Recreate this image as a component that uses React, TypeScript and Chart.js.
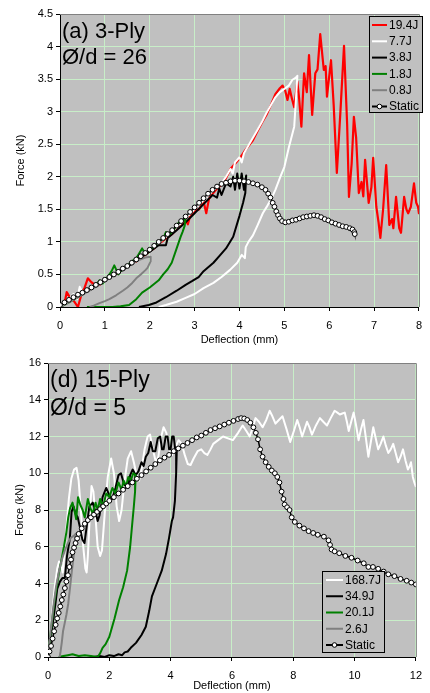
import React, { useEffect, useRef } from "react";
import { Chart, registerables } from "chart.js";
Chart.register(...registerables);

type Pt = [number, number];

// ---------- Top panel (a) 3-Ply ----------
const topSeriesNames = ["19.4J", "7.7J", "3.8J", "1.8J", "0.8J", "Static"];
const topXTickLabels = ["0", "1", "2", "3", "4", "5", "6", "7", "8"];
const topYTickLabels = ["0", "0.5", "1", "1.5", "2", "2.5", "3", "3.5", "4", "4.5"];
const topTitleLines = ["(a) 3-Ply", "Ø/d = 26"];

const top194J: Pt[] = [
  [0, 0], [0.1, 0.05], [0.15, 0.23], [0.22, 0.15], [0.3, 0.1], [0.4, 0.0], [0.48, 0.2], [0.55, 0.3],
  [0.62, 0.44], [0.7, 0.38], [0.8, 0.33], [0.88, 0.34], [1.0, 0.42], [1.1, 0.45], [1.2, 0.5], [1.3, 0.52],
  [1.4, 0.6], [1.5, 0.62], [1.6, 0.68], [1.7, 0.7], [1.8, 0.77], [1.9, 0.8], [2.0, 0.86], [2.1, 0.9],
  [2.2, 0.97], [2.3, 1.02], [2.4, 1.08], [2.5, 1.12], [2.6, 1.2], [2.7, 1.25], [2.8, 1.33], [2.85, 1.27],
  [2.9, 1.4], [3.0, 1.48], [3.1, 1.5], [3.2, 1.62], [3.26, 1.44], [3.32, 1.66], [3.4, 1.74], [3.5, 1.82],
  [3.6, 1.88], [3.7, 1.98], [3.8, 2.12], [3.9, 2.2], [4.0, 2.28], [4.1, 2.38], [4.2, 2.47], [4.3, 2.56],
  [4.4, 2.7], [4.5, 2.83], [4.6, 2.95], [4.7, 3.1], [4.8, 3.27], [4.9, 3.36], [4.96, 3.4], [5.02, 3.32],
  [5.07, 3.18], [5.12, 3.35], [5.17, 3.2], [5.22, 3.07], [5.29, 3.46], [5.33, 3.2], [5.38, 2.77], [5.44, 3.59],
  [5.5, 3.3], [5.55, 3.87], [5.62, 2.95], [5.69, 3.59], [5.74, 3.65], [5.8, 4.19], [5.88, 3.64], [5.92, 3.7],
  [5.95, 3.23], [6.04, 3.79], [6.1, 3.1], [6.17, 2.06], [6.25, 3.0], [6.33, 4.01], [6.4, 2.8], [6.44, 1.69],
  [6.5, 2.2], [6.55, 2.92], [6.6, 2.6], [6.66, 1.75], [6.72, 1.92], [6.76, 1.7], [6.8, 2.26], [6.88, 1.6],
  [6.94, 1.84], [6.98, 2.29], [7.05, 1.54], [7.1, 1.3], [7.14, 1.06], [7.2, 1.49], [7.27, 2.18], [7.34, 1.26],
  [7.4, 1.35], [7.43, 1.21], [7.49, 1.69], [7.56, 1.21], [7.6, 1.14], [7.67, 1.69], [7.72, 1.5], [7.76, 1.44],
  [7.82, 1.54], [7.89, 1.9], [7.94, 1.6], [7.98, 1.54], [8.0, 1.44],
];

const top77J: Pt[] = [
  [0, 0], [0.1, 0.04], [0.2, 0.12], [0.3, 0.2], [0.38, 0.12], [0.44, 0.31], [0.5, 0.22], [0.6, 0.26],
  [0.7, 0.3], [0.8, 0.35], [0.9, 0.38], [1.0, 0.42], [1.2, 0.5], [1.4, 0.59], [1.6, 0.67], [1.8, 0.77],
  [2.0, 0.87], [2.2, 0.98], [2.4, 1.1], [2.6, 1.22], [2.8, 1.36], [3.0, 1.5], [3.2, 1.64], [3.4, 1.78],
  [3.6, 1.9], [3.7, 2.0], [3.8, 2.12], [3.85, 2.05], [3.9, 2.22], [4.0, 2.3], [4.05, 2.22], [4.1, 2.36],
  [4.2, 2.48], [4.3, 2.6], [4.4, 2.72], [4.5, 2.84], [4.6, 2.98], [4.7, 3.1], [4.8, 3.22], [4.9, 3.3],
  [5.0, 3.35], [5.1, 3.4], [5.18, 3.49], [5.25, 3.52], [5.29, 3.55], [5.25, 3.1], [5.22, 2.77], [5.1, 2.45],
  [5.0, 2.15], [4.91, 2.0], [4.8, 1.8], [4.7, 1.65], [4.6, 1.53], [4.52, 1.44], [4.4, 1.25], [4.3, 1.1],
  [4.2, 1.0], [4.14, 0.92], [4.12, 0.75], [4.05, 0.8], [3.95, 0.68], [3.79, 0.57], [3.6, 0.46], [3.42, 0.37],
  [3.2, 0.29], [3.0, 0.2], [2.8, 0.14], [2.6, 0.08], [2.36, 0.03], [2.2, 0],
];

const top38J: Pt[] = [
  [0, 0], [0.2, 0.08], [0.4, 0.16], [0.6, 0.25], [0.8, 0.33], [1.0, 0.41], [1.2, 0.49], [1.4, 0.57],
  [1.6, 0.66], [1.8, 0.76], [2.0, 0.85], [2.2, 0.95], [2.36, 0.95], [2.4, 1.06], [2.6, 1.18], [2.8, 1.3],
  [3.0, 1.44], [3.2, 1.58], [3.4, 1.72], [3.5, 1.68], [3.55, 1.82], [3.6, 1.72], [3.7, 1.9], [3.8, 1.85],
  [3.86, 2.0], [3.9, 1.8], [3.95, 2.05], [4.0, 1.82], [4.05, 2.05], [4.1, 1.8], [4.15, 2.02], [4.13, 1.75],
  [4.08, 1.6], [4.0, 1.4], [3.86, 1.08], [3.7, 0.9], [3.55, 0.78], [3.42, 0.68], [3.2, 0.55], [3.09, 0.46],
  [2.95, 0.4], [2.8, 0.34], [2.6, 0.25], [2.36, 0.15], [2.15, 0.07], [1.98, 0.03], [1.76, 0],
];

const top18J: Pt[] = [
  [0, 0], [0.2, 0.07], [0.4, 0.15], [0.6, 0.24], [0.8, 0.33], [0.88, 0.41], [0.95, 0.36], [1.05, 0.45],
  [1.15, 0.55], [1.21, 0.64], [1.3, 0.5], [1.4, 0.6], [1.5, 0.64], [1.6, 0.7], [1.7, 0.75], [1.83, 0.9],
  [1.9, 0.82], [2.0, 0.88], [2.1, 0.93], [2.2, 1.0], [2.3, 1.05], [2.36, 1.15], [2.45, 1.12], [2.55, 1.2],
  [2.65, 1.3], [2.75, 1.33], [2.8, 1.36], [2.78, 1.25], [2.73, 1.15], [2.69, 1.08], [2.6, 0.9], [2.49, 0.68],
  [2.4, 0.58], [2.3, 0.5], [2.2, 0.41], [2.0, 0.3], [1.83, 0.22], [1.7, 0.12], [1.54, 0.03], [1.35, 0.01],
  [1.17, 0], [0.9, 0.0], [0.6, 0],
];

const top08J: Pt[] = [
  [0, 0], [0.2, 0.07], [0.4, 0.15], [0.6, 0.23], [0.8, 0.31], [1.0, 0.4], [1.1, 0.44], [1.2, 0.5],
  [1.32, 0.57], [1.45, 0.62], [1.6, 0.67], [1.76, 0.72], [1.9, 0.76], [2.02, 0.77], [2.02, 0.7], [1.95, 0.6],
  [1.91, 0.57], [1.8, 0.5], [1.7, 0.44], [1.61, 0.37], [1.5, 0.3], [1.4, 0.25], [1.25, 0.18], [1.1, 0.12],
  [1.0, 0.09], [0.88, 0.06], [0.75, 0.02], [0.66, 0],
];

const topStatic: Pt[] = [
  [0, 0.03], [0.1, 0.07], [0.2, 0.11], [0.3, 0.15], [0.4, 0.19], [0.5, 0.22], [0.6, 0.26], [0.7, 0.3],
  [0.8, 0.34], [0.9, 0.38], [1.0, 0.42], [1.1, 0.46], [1.2, 0.5], [1.3, 0.54], [1.4, 0.59], [1.5, 0.63],
  [1.6, 0.68], [1.7, 0.73], [1.8, 0.78], [1.9, 0.83], [2.0, 0.88], [2.1, 0.94], [2.2, 1.0], [2.3, 1.06],
  [2.4, 1.12], [2.5, 1.18], [2.6, 1.25], [2.7, 1.32], [2.8, 1.39], [2.9, 1.46], [3.0, 1.53], [3.1, 1.6],
  [3.2, 1.67], [3.3, 1.74], [3.4, 1.8], [3.5, 1.85], [3.6, 1.89], [3.7, 1.91], [3.8, 1.93], [3.9, 1.94],
  [4.0, 1.94], [4.1, 1.93], [4.2, 1.92], [4.3, 1.9], [4.4, 1.88], [4.5, 1.84], [4.58, 1.8], [4.64, 1.74],
  [4.69, 1.68], [4.74, 1.6], [4.78, 1.54], [4.82, 1.47], [4.86, 1.41], [4.9, 1.36], [4.95, 1.32], [5.02, 1.3],
  [5.1, 1.31], [5.18, 1.33], [5.26, 1.34], [5.34, 1.36], [5.42, 1.38], [5.5, 1.39], [5.58, 1.4], [5.66, 1.41],
  [5.74, 1.4], [5.82, 1.38], [5.9, 1.35], [5.98, 1.33], [6.06, 1.3], [6.14, 1.28], [6.22, 1.26], [6.3, 1.24],
  [6.38, 1.23], [6.46, 1.21], [6.52, 1.19], [6.56, 1.15], [6.57, 1.12],
];

// ---------- Bottom panel (d) 15-Ply ----------
const botSeriesNames = ["168.7J", "34.9J", "20.1J", "2.6J", "Static"];
const botXTickLabels = ["0", "2", "4", "6", "8", "10", "12"];
const botYTickLabels = ["0", "2", "4", "6", "8", "10", "12", "14", "16"];
const botTitleLines = ["(d) 15-Ply", "Ø/d = 5"];

const bot1687J: Pt[] = [
  [0, 0], [0.08, 1.2], [0.15, 2.6], [0.22, 3.8], [0.3, 4.8], [0.36, 5.2], [0.42, 5.1], [0.48, 4.6],
  [0.53, 5.5], [0.6, 7.0], [0.68, 8.6], [0.76, 9.7], [0.85, 10.2], [0.93, 10.3], [1.0, 9.6], [1.07, 8.0],
  [1.15, 6.0], [1.22, 4.8], [1.26, 4.6], [1.3, 5.5], [1.36, 7.6], [1.42, 9.3], [1.48, 9.0], [1.55, 7.6],
  [1.62, 6.0], [1.7, 5.5], [1.76, 5.8], [1.85, 7.8], [1.95, 9.8], [2.06, 10.8], [2.15, 10.0], [2.24, 8.2],
  [2.32, 7.4], [2.4, 8.0], [2.5, 9.6], [2.6, 10.8], [2.71, 11.2], [2.8, 10.6], [2.9, 9.8], [2.97, 9.6],
  [3.05, 10.2], [3.15, 11.3], [3.25, 12.0], [3.33, 12.1], [3.42, 11.3], [3.52, 10.6], [3.6, 10.9], [3.68, 11.9],
  [3.77, 12.5], [3.86, 12.2], [3.95, 11.3], [4.05, 11.0], [4.15, 11.4], [4.26, 11.8], [4.36, 11.6], [4.46, 11.0],
  [4.56, 10.5], [4.65, 10.45], [4.75, 10.8], [4.88, 11.2], [5.0, 11.3], [5.1, 11.1], [5.2, 11.0], [5.3, 11.3],
  [5.39, 11.6], [5.55, 11.8], [5.71, 12.0], [5.87, 11.9], [6.03, 11.8], [6.2, 12.2], [6.35, 12.6], [6.47, 12.3],
  [6.58, 12.0], [6.68, 12.5], [6.77, 13.0], [6.88, 12.8], [7.0, 12.5], [7.12, 12.9], [7.23, 13.4], [7.32, 13.1],
  [7.42, 12.7], [7.53, 12.9], [7.65, 13.1], [7.78, 12.4], [7.9, 11.7], [8.02, 12.3], [8.13, 12.9], [8.21, 12.5],
  [8.29, 12.0], [8.37, 12.4], [8.45, 12.8], [8.53, 12.5], [8.61, 12.1], [8.74, 12.6], [8.87, 13.0], [8.98, 12.8],
  [9.1, 12.6], [9.22, 13.0], [9.35, 13.4], [9.44, 13.3], [9.52, 13.2], [9.6, 13.25], [9.68, 13.3], [9.75, 12.8],
  [9.81, 12.3], [9.89, 12.8], [9.97, 13.3], [10.05, 12.6], [10.13, 11.8], [10.21, 12.4], [10.29, 12.9], [10.37, 11.9],
  [10.45, 10.9], [10.53, 11.7], [10.61, 12.5], [10.69, 11.9], [10.77, 11.3], [10.85, 11.6], [10.94, 12.0], [11.02, 11.5],
  [11.1, 11.1], [11.18, 11.3], [11.26, 11.6], [11.34, 11.1], [11.42, 10.6], [11.5, 10.9], [11.58, 11.3], [11.66, 10.7],
  [11.74, 10.2], [11.8, 10.4], [11.84, 10.6], [11.9, 9.8], [11.95, 9.5], [12.0, 9.25],
];

const bot349J: Pt[] = [
  [0, 0], [0.08, 1.0], [0.17, 2.0], [0.25, 3.0], [0.3, 3.7], [0.39, 4.1], [0.47, 4.3], [0.55, 4.3],
  [0.62, 5.5], [0.71, 6.4], [0.77, 7.9], [0.83, 8.2], [0.9, 7.8], [0.97, 7.6], [1.05, 7.0], [1.12, 6.4],
  [1.19, 6.2], [1.27, 7.2], [1.35, 8.2], [1.46, 8.4], [1.55, 7.9], [1.62, 7.4], [1.68, 7.7], [1.78, 8.7],
  [1.9, 9.2], [2.0, 8.8], [2.1, 8.6], [2.2, 9.2], [2.3, 9.9], [2.38, 10.0], [2.48, 9.4], [2.6, 9.2],
  [2.68, 9.9], [2.76, 10.2], [2.86, 9.9], [2.95, 10.1], [3.05, 10.6], [3.12, 10.4], [3.19, 10.9], [3.27, 11.1],
  [3.35, 11.7], [3.42, 11.2], [3.5, 11.2], [3.58, 11.9], [3.66, 12.0], [3.72, 11.3], [3.77, 11.3], [3.84, 12.0],
  [3.9, 12.0], [3.95, 11.3], [4.0, 11.3], [4.05, 12.0], [4.1, 12.0], [4.15, 11.3], [4.2, 11.2], [4.18, 10.0],
  [4.14, 8.5], [4.08, 7.6], [4.04, 7.4], [3.95, 6.5], [3.85, 5.6], [3.71, 4.7], [3.55, 4.0], [3.39, 3.3],
  [3.3, 2.5], [3.19, 1.65], [3.05, 1.2], [2.87, 0.77], [2.7, 0.5], [2.6, 0.3], [2.5, 0.25], [2.42, 0.1],
  [2.3, 0.15], [2.15, 0.05], [2.0, 0.1], [1.85, 0.0], [1.68, 0.05], [1.5, 0],
];

const bot201J: Pt[] = [
  [0, 0], [0.06, 0.9], [0.12, 1.8], [0.2, 2.9], [0.28, 3.8], [0.36, 4.6], [0.44, 5.3], [0.52, 6.0],
  [0.6, 6.8], [0.66, 7.6], [0.72, 8.1], [0.8, 8.4], [0.86, 8.0], [0.92, 7.5], [0.98, 8.7], [1.05, 8.3],
  [1.13, 8.0], [1.2, 7.6], [1.3, 8.6], [1.38, 8.1], [1.46, 7.8], [1.55, 8.4], [1.62, 8.0], [1.7, 8.6],
  [1.8, 8.2], [1.9, 8.9], [2.0, 8.7], [2.1, 9.2], [2.2, 8.9], [2.3, 9.5], [2.4, 9.1], [2.47, 9.6],
  [2.55, 9.3], [2.62, 9.8], [2.7, 9.6], [2.78, 10.0], [2.86, 9.9], [2.84, 9.0], [2.8, 8.2], [2.75, 7.3],
  [2.68, 6.0], [2.58, 4.7], [2.45, 3.8], [2.32, 3.1], [2.17, 2.1], [2.0, 1.1], [1.88, 0.7], [1.78, 0.5],
  [1.7, 0.2], [1.62, 0.0], [1.4, 0.05], [1.2, 0.1], [1.0, 0.05], [0.8, 0.15], [0.65, 0.1], [0.5, 0.05],
  [0.35, 0.0],
];

const bot26J: Pt[] = [
  [0, 0], [0.05, 0.8], [0.1, 1.6], [0.18, 2.8], [0.26, 3.8], [0.35, 4.6], [0.45, 5.3], [0.55, 5.8],
  [0.65, 6.2], [0.75, 6.5], [0.85, 6.6], [0.9, 6.7], [0.88, 6.2], [0.83, 5.4], [0.78, 4.7], [0.72, 3.8],
  [0.66, 2.9], [0.6, 2.3], [0.54, 1.8], [0.49, 1.4], [0.45, 0.8], [0.41, 0.3], [0.38, 0],
];

const botStatic: Pt[] = [
  [0, 0], [0.05, 0.3], [0.1, 0.6], [0.15, 1.0], [0.2, 1.4], [0.25, 1.75], [0.3, 2.1], [0.35, 2.4],
  [0.4, 2.75], [0.45, 3.1], [0.5, 3.4], [0.55, 3.75], [0.6, 4.1], [0.65, 4.45], [0.7, 4.9], [0.75, 5.3],
  [0.8, 5.7], [0.85, 5.95], [0.9, 6.2], [0.95, 6.45], [1.0, 6.7], [1.1, 7.0], [1.2, 7.25], [1.3, 7.45],
  [1.4, 7.6], [1.5, 7.75], [1.6, 7.9], [1.7, 8.05], [1.8, 8.2], [1.9, 8.35], [2.0, 8.5], [2.15, 8.7],
  [2.3, 8.9], [2.45, 9.1], [2.6, 9.3], [2.75, 9.5], [2.9, 9.7], [3.05, 9.9], [3.2, 10.1], [3.35, 10.3],
  [3.5, 10.5], [3.65, 10.7], [3.8, 10.85], [3.95, 11.0], [4.1, 11.2], [4.25, 11.35], [4.4, 11.5], [4.55, 11.65],
  [4.7, 11.8], [4.85, 11.95], [5.0, 12.05], [5.15, 12.2], [5.3, 12.35], [5.45, 12.45], [5.6, 12.55], [5.75, 12.65],
  [5.9, 12.75], [6.05, 12.85], [6.2, 12.95], [6.3, 13.0], [6.4, 12.98], [6.5, 12.9], [6.6, 12.75], [6.7, 12.5],
  [6.78, 12.2], [6.85, 11.85], [6.92, 11.3], [7.0, 10.9], [7.1, 10.6], [7.2, 10.35], [7.3, 10.15], [7.4, 10.0],
  [7.48, 9.8], [7.55, 9.5], [7.62, 9.0], [7.68, 8.6], [7.72, 8.3], [7.8, 8.15], [7.88, 8.0], [7.95, 7.6],
  [8.05, 7.35], [8.2, 7.15], [8.35, 7.0], [8.5, 6.85], [8.65, 6.75], [8.8, 6.65], [9.0, 6.55], [9.15, 6.35],
  [9.2, 6.1], [9.25, 5.85], [9.35, 5.75], [9.5, 5.65], [9.7, 5.5], [9.9, 5.4], [10.1, 5.25], [10.3, 5.1],
  [10.45, 4.9], [10.6, 4.9], [10.77, 4.8], [10.95, 4.65], [11.1, 4.5], [11.3, 4.4], [11.5, 4.25], [11.7, 4.15],
  [11.85, 4.05], [12.0, 3.95],
];

// ---------- helpers ----------
const FONT = "'Liberation Sans', Arial, Helvetica, sans-serif";
const toXY = (pts: Pt[]) => pts.map(([x, y]) => ({ x, y }));

type LegendCfg = {
  x: number; y: number; w: number; h: number;
  row0: number; step: number; s1: number; s2: number; tx: number;
};
type TitleCfg = { x: number; baselines: number[]; size: number; lines: string[] };

function makePanelPlugin(legend: LegendCfg, title: TitleCfg) {
  return {
    id: "panelDecor",
    beforeDraw(chart: any) {
      const { ctx, chartArea: a } = chart;
      ctx.save();
      ctx.fillStyle = "#c0c0c0";
      ctx.fillRect(a.left, a.top, a.right - a.left, a.bottom - a.top);
      ctx.restore();
    },
    afterDraw(chart: any) {
      const { ctx, chartArea: a } = chart;
      ctx.save();
      // top & right frame
      ctx.strokeStyle = "#808080";
      ctx.lineWidth = 1;
      ctx.beginPath();
      ctx.moveTo(a.left, a.top + 0.5);
      ctx.lineTo(a.right + 0.5, a.top + 0.5);
      ctx.lineTo(a.right + 0.5, a.bottom);
      ctx.stroke();

      // panel title
      ctx.fillStyle = "#000";
      ctx.font = `${title.size}px ${FONT}`;
      ctx.textAlign = "left";
      ctx.textBaseline = "alphabetic";
      title.lines.forEach((t, i) => ctx.fillText(t, title.x, title.baselines[i]));

      // legend
      ctx.fillStyle = "#c0c0c0";
      ctx.fillRect(legend.x, legend.y, legend.w, legend.h);
      ctx.strokeStyle = "#000";
      ctx.lineWidth = 1;
      ctx.strokeRect(legend.x + 0.5, legend.y + 0.5, legend.w, legend.h);
      ctx.font = `12px ${FONT}`;
      ctx.textBaseline = "middle";
      const ds = chart.data.datasets;
      ds.forEach((d: any, i: number) => {
        const yy = legend.row0 + i * legend.step;
        ctx.strokeStyle = d.borderColor;
        ctx.lineWidth = 2;
        ctx.beginPath();
        ctx.moveTo(legend.s1, yy);
        ctx.lineTo(legend.s2, yy);
        ctx.stroke();
        if (d.pointRadius > 0) {
          ctx.beginPath();
          ctx.arc((legend.s1 + legend.s2) / 2, yy, 2.3, 0, Math.PI * 2);
          ctx.fillStyle = "#fff";
          ctx.fill();
          ctx.lineWidth = 1;
          ctx.strokeStyle = "#000";
          ctx.stroke();
        }
        ctx.fillStyle = "#000";
        ctx.fillText(d.label, legend.tx, yy + 0.5);
      });
      ctx.restore();
    },
  };
}

function lineDs(label: string, pts: Pt[], color: string, order: number, width = 2) {
  return {
    label,
    data: toXY(pts),
    borderColor: color,
    backgroundColor: color,
    borderWidth: width,
    pointRadius: 0,
    pointHoverRadius: 0,
    fill: false,
    tension: 0,
    borderJoinStyle: "round" as const,
    order,
  };
}

function staticDs(label: string, pts: Pt[], order: number) {
  return {
    label,
    data: toXY(pts),
    borderColor: "#000000",
    backgroundColor: "#ffffff",
    borderWidth: 1.5,
    pointRadius: 2.4,
    pointHoverRadius: 2.4,
    pointBackgroundColor: "#ffffff",
    pointBorderColor: "#000000",
    pointBorderWidth: 1,
    fill: false,
    tension: 0,
    order,
  };
}

function axes(opts: {
  xMax: number; xStep: number; yMax: number; yStep: number;
  xLabels: string[]; yLabels: string[]; yWidth: number; xHeight: number;
  yTitlePad: number; xTitlePad: number;
}) {
  const grid = { color: "#c8eec8", lineWidth: 1, drawTicks: true, tickLength: 4, tickColor: "#000" };
  const border = { display: true, color: "#000", width: 1 };
  return {
    x: {
      type: "linear" as const,
      min: 0, max: opts.xMax,
      grid, border,
      ticks: {
        stepSize: opts.xStep, autoSkip: false, maxRotation: 0, padding: 8,
        color: "#000", font: { family: FONT, size: 11 },
        callback: (_v: any, i: number) => opts.xLabels[i],
      },
      title: {
        display: true, text: "Deflection (mm)", color: "#000",
        font: { family: FONT, size: 11 }, padding: { top: 0, bottom: opts.xTitlePad },
      },
      afterFit: (s: any) => { s.height = opts.xHeight; },
    },
    y: {
      type: "linear" as const,
      min: 0, max: opts.yMax,
      grid, border,
      ticks: {
        stepSize: opts.yStep, autoSkip: false, padding: 3,
        color: "#000", font: { family: FONT, size: 11 },
        callback: (_v: any, i: number) => opts.yLabels[i],
      },
      title: {
        display: true, text: "Force (kN)", color: "#000",
        font: { family: FONT, size: 11 }, padding: { top: opts.yTitlePad, bottom: 0 },
      },
      afterFit: (s: any) => { s.width = opts.yWidth; },
    },
  };
}

function topConfig(): any {
  const datasets = [
    lineDs(topSeriesNames[0], top194J, "#ff0000", 5, 2.2),
    lineDs(topSeriesNames[1], top77J, "#ffffff", 4),
    lineDs(topSeriesNames[2], top38J, "#000000", 3),
    lineDs(topSeriesNames[3], top18J, "#008000", 2),
    lineDs(topSeriesNames[4], top08J, "#808080", 1),
    staticDs(topSeriesNames[5], topStatic, 0),
  ];
  return {
    type: "line",
    data: { datasets },
    options: {
      responsive: false,
      animation: false,
      events: [],
      layout: { padding: { left: 0, right: 7, top: 14, bottom: 0 } },
      plugins: { legend: { display: false }, tooltip: { enabled: false } },
      scales: axes({
        xMax: 8, xStep: 1, yMax: 4.5, yStep: 0.5,
        xLabels: topXTickLabels, yLabels: topYTickLabels,
        yWidth: 60, xHeight: 41, yTitlePad: 14, xTitlePad: 1.5,
      }),
    },
    plugins: [
      makePanelPlugin(
        { x: 369, y: 16, w: 53, h: 96, row0: 25, step: 16.3, s1: 372, s2: 387, tx: 389 },
        { x: 62, baselines: [38, 64], size: 22, lines: topTitleLines }
      ),
    ],
  };
}

function botConfig(): any {
  const datasets = [
    lineDs(botSeriesNames[0], bot1687J, "#ffffff", 4),
    lineDs(botSeriesNames[1], bot349J, "#000000", 3),
    lineDs(botSeriesNames[2], bot201J, "#008000", 2),
    lineDs(botSeriesNames[3], bot26J, "#808080", 1),
    staticDs(botSeriesNames[4], botStatic, 0),
  ];
  return {
    type: "line",
    data: { datasets },
    options: {
      responsive: false,
      animation: false,
      events: [],
      layout: { padding: { left: 0, right: 10, top: 15, bottom: 0 } },
      plugins: { legend: { display: false }, tooltip: { enabled: false } },
      scales: axes({
        xMax: 12, xStep: 2, yMax: 16, yStep: 2,
        xLabels: botXTickLabels, yLabels: botYTickLabels,
        yWidth: 48, xHeight: 36, yTitlePad: 13, xTitlePad: 0.5,
      }),
    },
    plugins: [
      makePanelPlugin(
        { x: 322, y: 223, w: 62, h: 81, row0: 232, step: 16.25, s1: 326, s2: 343, tx: 345 },
        { x: 50, baselines: [39, 67], size: 23, lines: botTitleLines }
      ),
    ],
  };
}

function Panel({ build, top, height }: { build: () => any; top: number; height: number }) {
  const ref = useRef<HTMLCanvasElement>(null);
  useEffect(() => {
    const chart = new Chart(ref.current as HTMLCanvasElement, build());
    return () => chart.destroy();
  }, []);
  return (
    <canvas
      ref={ref}
      width={430}
      height={height}
      style={{ position: "absolute", left: 0, top, width: 430, height, display: "block" }}
    />
  );
}

export default function App() {
  return (
    <div style={{ position: "fixed", left: 0, top: 0, width: 430, height: 693, background: "#fff", overflow: "hidden" }}>
      <Panel build={topConfig} top={0} height={348} />
      <Panel build={botConfig} top={348} height={345} />
    </div>
  );
}
